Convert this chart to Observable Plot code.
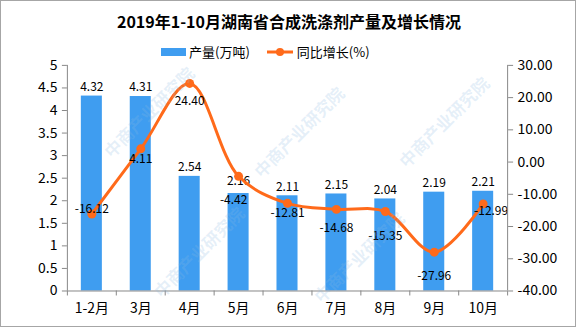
<!DOCTYPE html>
<html><head><meta charset="utf-8">
<script src="https://cdn.jsdelivr.net/npm/d3@7"></script>
<script src="https://cdn.jsdelivr.net/npm/@observablehq/plot@0.6"></script>
<style>
html,body{margin:0;padding:0;background:#fff;}
#wrap{position:relative;width:576px;height:327px;box-sizing:border-box;border:1px solid #a6a6a6;overflow:hidden;font-family:"Noto Sans CJK SC",sans-serif;}
#chart{position:absolute;left:-1px;top:-1px;}
#title{position:absolute;left:0;top:8px;width:576px;text-align:center;font-size:16px;font-weight:bold;color:#000;}
#legend{position:absolute;top:41px;left:160px;font-size:13px;color:#000;display:flex;align-items:center;}
.wm{position:absolute;color:rgba(140,185,225,0.22);font-size:17px;font-weight:bold;transform:rotate(-45deg);white-space:nowrap;pointer-events:none;}
</style></head>
<body>
<div id="wrap">
<div id="chart"></div>
<div id="title">2019年1-10月湖南省合成洗涤剂产量及增长情况</div>
<div id="legend">
  <span style="display:inline-block;width:25px;height:8px;background:#3f9df0;margin-right:3px"></span><span>产量(万吨)</span>
  <svg width="28" height="10" style="margin-left:17px;margin-right:2px"><line x1="0" y1="5" x2="26" y2="5" stroke="#ff6a1a" stroke-width="3"/><circle cx="13" cy="5" r="4" fill="#ff6a1a"/></svg><span>同比增长(%)</span>
</div>
</div>
<script>
const months = ["1-2月","3月","4月","5月","6月","7月","8月","9月","10月"];
const output = [4.32, 4.31, 2.54, 2.16, 2.11, 2.15, 2.04, 2.19, 2.21];
const growth = [-16.12, 4.11, 24.40, -4.42, -12.81, -14.68, -15.35, -27.96, -12.99];
const leftTicks = [0, 0.5, 1, 1.5, 2, 2.5, 3, 3.5, 4, 4.5, 5];
const rightTicks = [-40, -30, -20, -10, 0, 10, 20, 30];

// right axis (-40..30) mapped onto left axis (0..5)
const toLeft = g => (g + 40) / 70 * 5;
const fromLeft = v => v / 5 * 70 - 40;

const data = months.map((m, i) => ({m, i, x: i + 0.5, v: output[i], g: growth[i], gy: toLeft(growth[i])}));
// label offsets (styling only)
const bdy = [-9, -9, -9, -12, -9, -9, -9, -9, -9];
const gdy = [-5, 10, 18, 24, 10, 19, 25, 24, 7];
const gdx = [0, 0, 0, -5, 0, 0, 0, 0, 8];
const bw = 0.215;
const font = "Noto Sans CJK SC, sans-serif";

const offsetRender = (dxs, dys) => (index, scales, values, dims, ctx, next) => {
  const g = next(index, scales, values, dims, ctx);
  d3.select(g).selectAll("text").each(function(_, k) {
    const i = index[k];
    d3.select(this).attr("transform", `translate(${values.x[i] + dxs[i]},${values.y[i] + dys[i]})`);
  });
  return g;
};

const chart = Plot.plot({
  width: 576, height: 327,
  marginTop: 65, marginBottom: 36, marginLeft: 67, marginRight: 68,
  style: {fontFamily: font, fontSize: "13px", color: "#000", background: "transparent"},
  x: {type: "linear", domain: [0, 9], label: null},
  y: {domain: [0, 5], label: null},
  marks: [
    Plot.rectY(data, {x1: d => d.x - bw, x2: d => d.x + bw, y1: 0, y2: "v", fill: "#3f9df0"}),
    Plot.text(data, {x: "x", y: "v", text: d => d.v.toFixed(2), fontSize: 12, fill: "#000",
      render: offsetRender(months.map(() => 0), bdy)}),
    Plot.line(data, {x: "x", y: "gy", curve: "catmull-rom", stroke: "#ff6a1a", strokeWidth: 3}),
    Plot.dot(data, {x: "x", y: "gy", r: 4.5, fill: "#ff6a1a"}),
    Plot.text(data, {x: "x", y: "gy", text: d => d.g.toFixed(2), fontSize: 12, fill: "#000",
      render: offsetRender(gdx, gdy)}),
    Plot.axisY({ticks: leftTicks, tickFormat: d => String(d), tickSize: 5, tickPadding: 5, stroke: "#888", fontSize: 14, label: null}),
    Plot.ruleX([0], {stroke: "#888"}),
    Plot.axisY({anchor: "right", ticks: rightTicks.map(toLeft), tickFormat: d => fromLeft(d).toFixed(2), tickSize: 5, tickPadding: 5, stroke: "#888", fontSize: 14, label: null}),
    Plot.ruleX([9], {stroke: "#888"}),
    Plot.ruleY([0], {stroke: "#888"}),
    Plot.axisX({ticks: d3.range(0, 10), tickFormat: () => "", tickSize: 5, stroke: "#888", label: null}),
    Plot.axisX({ticks: data.map(d => d.x), tickFormat: v => months[Math.round(v - 0.5)], tickSize: 0, tickPadding: 12, fontSize: 14, label: null})
  ]
});
document.getElementById("chart").appendChild(chart);

// faint watermarks
const wmPos = [[150,110],[300,130],[445,120],[200,250],[360,255]];
const wrap = document.getElementById("wrap");
for (const [x, y] of wmPos) {
  const d = document.createElement("div");
  d.className = "wm";
  d.style.left = (x - 62) + "px";
  d.style.top = (y - 12) + "px";
  d.textContent = "中商产业研究院";
  wrap.appendChild(d);
}
</script>
</body></html>
